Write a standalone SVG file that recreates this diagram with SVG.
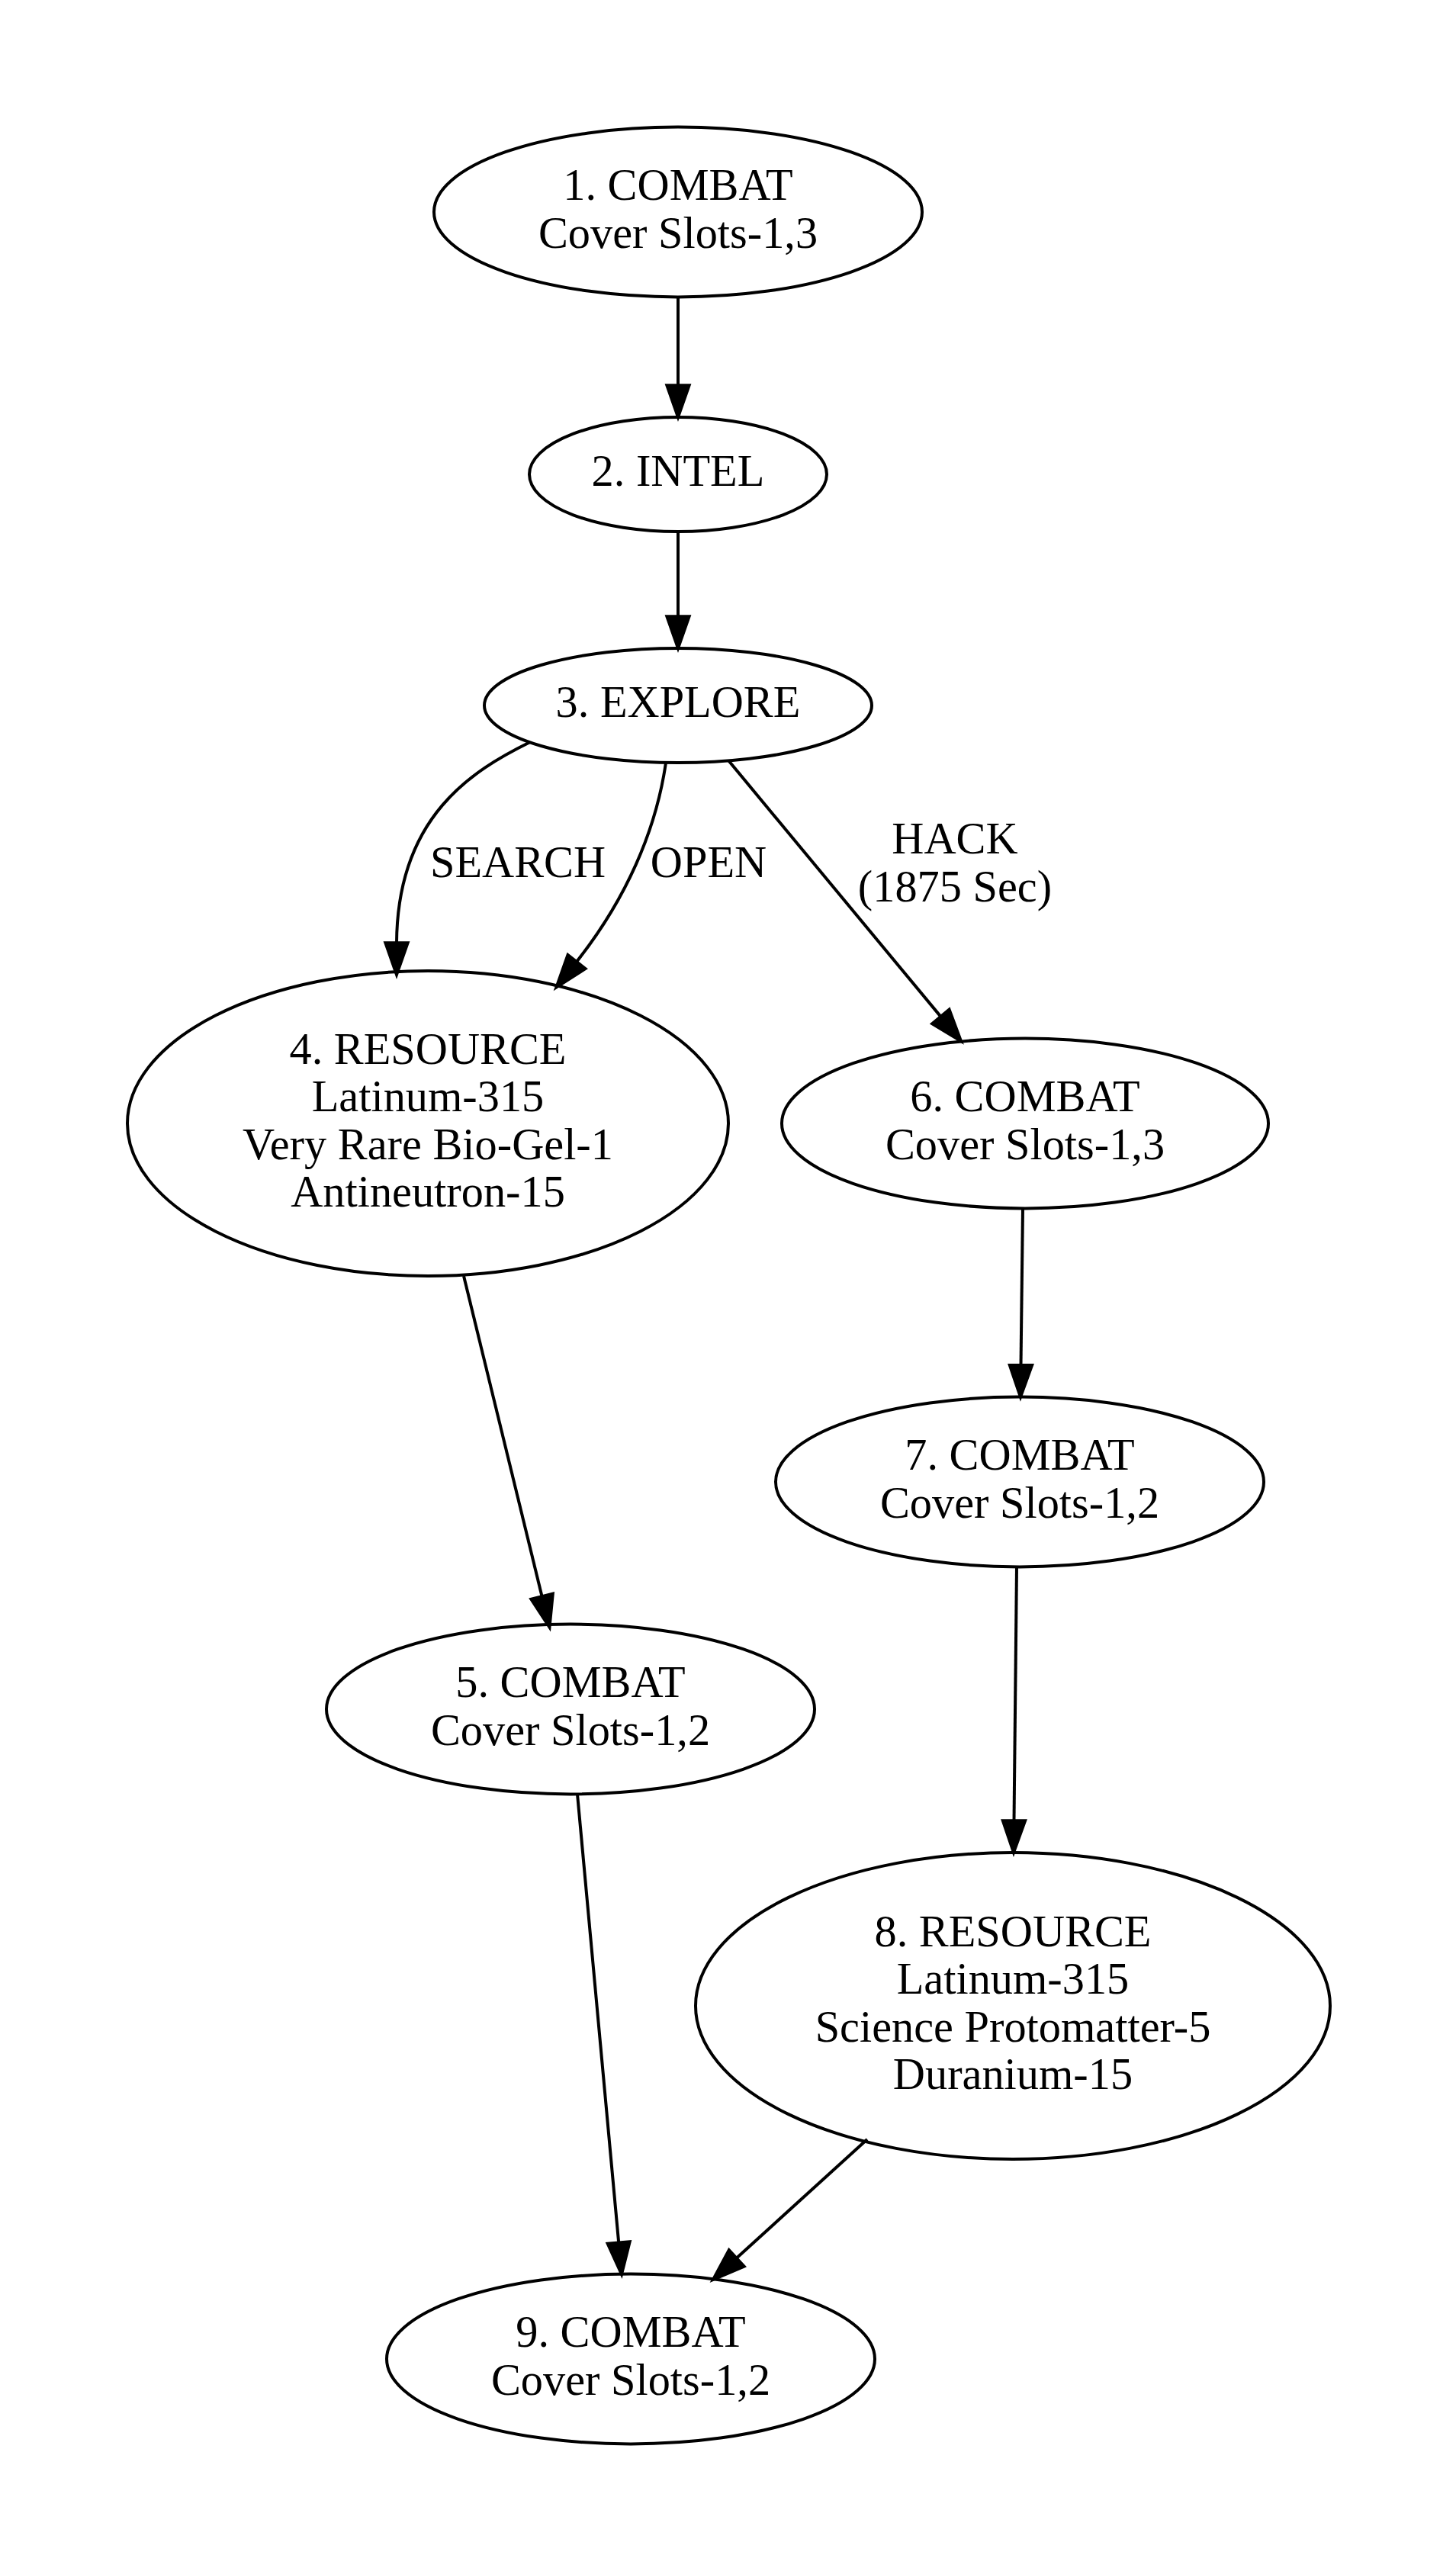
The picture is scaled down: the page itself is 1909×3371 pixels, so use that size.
<svg xmlns="http://www.w3.org/2000/svg" width="1909" height="3371" viewBox="0 0 1909 3371">
<style>
.n ellipse{fill:none;stroke:#000;stroke-width:4}
text{font-family:"Liberation Serif","Times New Roman",serif;font-size:58.33px;fill:#000;text-anchor:middle}
.e path{fill:none;stroke:#000;stroke-width:4}
.e polygon{fill:#000;stroke:#000;stroke-width:4}
</style>
<rect x="0" y="0" width="1909" height="3371" fill="#fff"/>
<g id="edges" class="e">
<g id="e1_2"><path d="M889,389.4 L889,505.3"/><polygon points="874.4,505.3 889,547 903.6,505.3"/></g>
<g id="e2_3"><path d="M889,697 L889,808.3"/><polygon points="874.4,808.3 889,850 903.6,808.3"/></g>
<g id="e3_4_search"><path d="M695,973 C620,1010 521,1070 520,1236.3"/><polygon points="505.4,1236.3 520,1278 534.6,1236.3"/><text x="679" y="1150">SEARCH</text></g>
<g id="e3_4_open"><path d="M873,1000 C860,1090 820,1180 756,1261"/><polygon points="767.5,1270.1 729.5,1294.5 744.5,1252"/><text x="929" y="1150">OPEN</text></g>
<g id="e3_6_hack"><path d="M955,997 L1233.4,1332.9"/><polygon points="1244.6,1323.6 1260,1365 1222.2,1342.2"/><text x="1252" y="1119">HACK</text><text x="1252" y="1181.5">(1875 Sec)</text></g>
<g id="e4_5"><path d="M608,1673 L710.6,2093.2"/><polygon points="724.8,2089.7 720.5,2133.7 696.4,2096.7"/></g>
<g id="e6_7"><path d="M1341,1584.4 L1338.5,1790"/><polygon points="1323.9,1790 1338,1831.6 1353.1,1790"/></g>
<g id="e7_8"><path d="M1333,2054.4 L1329.5,2387.3"/><polygon points="1314.9,2387.3 1329,2429 1344.1,2387.3"/></g>
<g id="e5_9"><path d="M757,2352.4 L811.2,2940.5"/><polygon points="825.7,2939.2 815,2982 796.7,2941.8"/></g>
<g id="e8_9"><path d="M1137,2805 L965.7,2960.8"/><polygon points="975.6,2971.6 935,2989 955.8,2950.1"/></g>
</g>
<g id="n1" class="n"><ellipse cx="889" cy="278" rx="320" ry="111.4"/><text x="889" y="262.2">1. COMBAT</text><text x="889" y="324.7">Cover Slots-1,3</text></g>
<g id="n2" class="n"><ellipse cx="889" cy="622" rx="195" ry="75"/><text x="889" y="637.4">2. INTEL</text></g>
<g id="n3" class="n"><ellipse cx="889" cy="925" rx="254" ry="75"/><text x="889" y="940.4">3. EXPLORE</text></g>
<g id="n4" class="n"><ellipse cx="561" cy="1473" rx="394" ry="200"/><text x="561" y="1394.7">4. RESOURCE</text><text x="561" y="1457.2">Latinum-315</text><text x="561" y="1519.7">Very Rare Bio-Gel-1</text><text x="561" y="1582.2">Antineutron-15</text></g>
<g id="n6" class="n"><ellipse cx="1344" cy="1473" rx="319" ry="111.4"/><text x="1344" y="1457.2">6. COMBAT</text><text x="1344" y="1519.7">Cover Slots-1,3</text></g>
<g id="n7" class="n"><ellipse cx="1337" cy="1943" rx="320" ry="111.4"/><text x="1337" y="1927.2">7. COMBAT</text><text x="1337" y="1989.7">Cover Slots-1,2</text></g>
<g id="n5" class="n"><ellipse cx="748" cy="2241" rx="320" ry="111.4"/><text x="748" y="2225.2">5. COMBAT</text><text x="748" y="2287.7">Cover Slots-1,2</text></g>
<g id="n8" class="n"><ellipse cx="1328" cy="2630" rx="416" ry="201"/><text x="1328" y="2551.7">8. RESOURCE</text><text x="1328" y="2614.2">Latinum-315</text><text x="1328" y="2676.7">Science Protomatter-5</text><text x="1328" y="2739.2">Duranium-15</text></g>
<g id="n9" class="n"><ellipse cx="827" cy="3093" rx="320" ry="111.4"/><text x="827" y="3077.2">9. COMBAT</text><text x="827" y="3139.7">Cover Slots-1,2</text></g>
</svg>
